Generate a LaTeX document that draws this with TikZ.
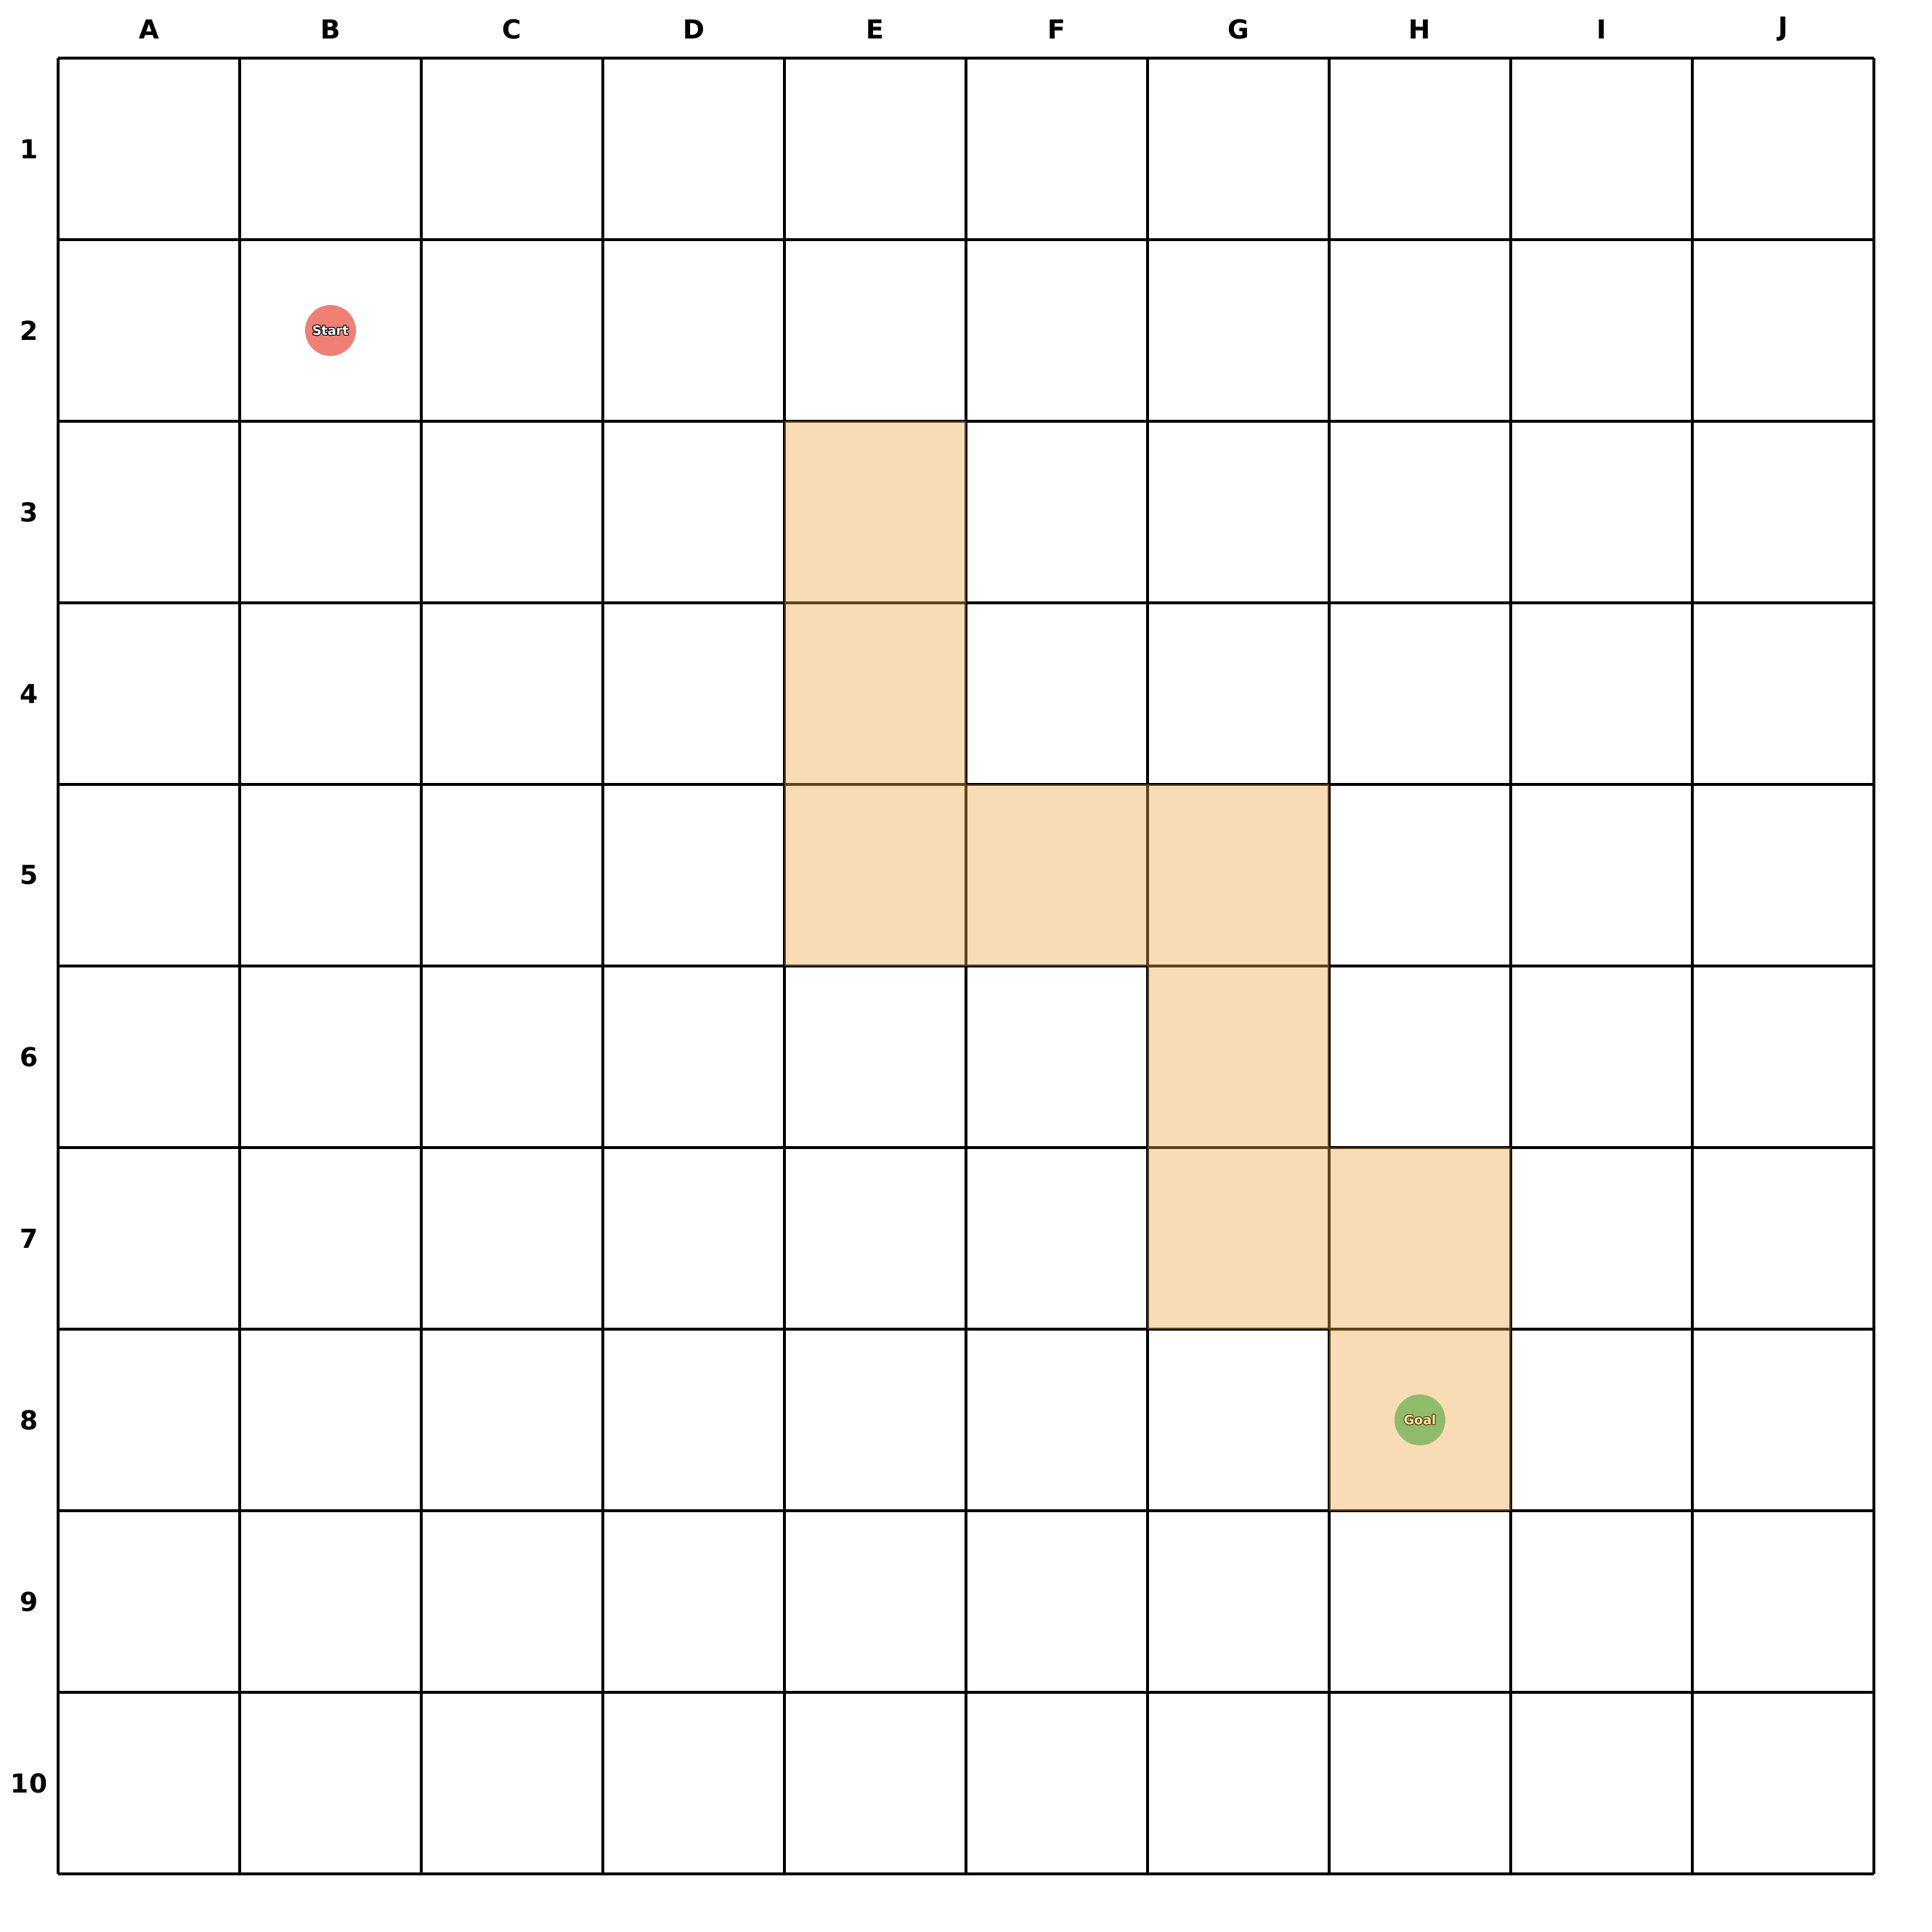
\documentclass[tikz,border=0pt]{standalone}
\usepackage{fontspec}
\setmainfont{DejaVu Sans}
\definecolor{pathfill}{RGB}{238,168,70}
\definecolor{startc}{RGB}{240,128,116}
\definecolor{goalc}{RGB}{143,187,106}
\definecolor{goaltext}{RGB}{250,228,180}
\definecolor{goaledge}{RGB}{90,60,10}
\tikzset{
  gridline/.style={line width=0.35pt, black},
  pathcell/.style={fill=pathfill, fill opacity=0.4, draw=none},
  axislabel/.style={font=\bfseries\fontsize{4.1}{4.7}\selectfont, inner sep=0pt},
  marker/.style={circle, minimum size=0.28cm, inner sep=0pt, draw=none},
  tinytext/.style={font=\bfseries\fontsize{2.0}{2.4}\selectfont, inner sep=0pt}
}
\newcommand{\outlinetext}[5]{% name, position, text, fill colour, edge colour
  \foreach \dx/\dy in {0.12/0,-0.12/0,0/0.12,0/-0.12,0.085/0.085,-0.085/0.085,0.085/-0.085,-0.085/-0.085}{
    \node[tinytext, text=#5] at ([shift={(\dx pt,\dy pt)}]#2) {#3};
  }
  \node[tinytext, text=#4] (#1) at (#2) {#3};
}
\begin{document}
\begin{tikzpicture}
\useasboundingbox (-0.32,-0.32) rectangle (10.32,10.32);
% grid
\foreach \i in {0,...,10}{
  \draw[gridline] (\i,0) -- (\i,10);
  \draw[gridline] (0,\i) -- (10,\i);
}
% column labels
\foreach \c [count=\k from 0] in {A,B,C,D,E,F,G,H,I,J}{
  \node[axislabel] (col\c) at (\k+0.5,10.16) {\c};
}
% row labels
\foreach \r in {1,...,10}{
  \node[axislabel] (row\r) at (-0.16,10.5-\r) {\r};
}
% path cells (column index 0..9, row 1..10)
\foreach \cx/\ry in {4/3,4/4,4/5,5/5,6/5,6/6,6/7,7/7,7/8}{
  \fill[pathcell] (\cx,10-\ry) rectangle (\cx+1,11-\ry);
}
% start and goal
\node[marker, fill=startc] (start) at (1.5,8.5) {};
\outlinetext{starttext}{start.center}{Start}{white}{black}
\node[marker, fill=goalc] (goal) at (7.5,2.5) {};
\outlinetext{goaltext}{goal.center}{Goal}{goaltext}{goaledge}
\end{tikzpicture}
\end{document}
